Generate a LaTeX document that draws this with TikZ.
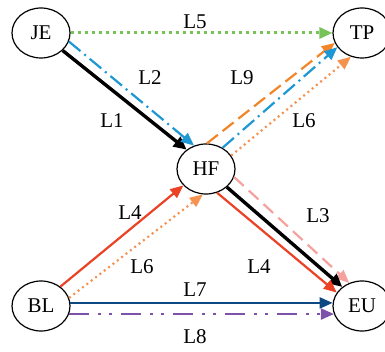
\documentclass[tikz,border=0pt]{standalone}
\usepackage{fontspec}
\setmainfont{Liberation Serif}
\usetikzlibrary{shapes.geometric, arrows.meta}
\definecolor{lgreen}{RGB}{119,195,87}
\definecolor{lblue}{RGB}{30,152,212}
\definecolor{dorange}{RGB}{242,133,40}
\definecolor{lorange}{RGB}{246,146,80}
\definecolor{lred}{RGB}{235,66,38}
\definecolor{lpink}{RGB}{245,162,158}
\definecolor{navy}{RGB}{14,72,130}
\definecolor{lpurple}{RGB}{126,82,170}
\tikzstyle{station} = [ellipse, minimum width=58pt, minimum height=50pt, inner sep=0pt, text centered, draw=black, line width=1.2pt]
\tikzstyle{arrow} = [line width=2.2pt, -{Triangle[length=13pt,width=11pt]}]
\tikzstyle{heavy} = [line width=3.4pt, -{Triangle[length=13pt,width=12pt]}]
\tikzstyle{every node}=[font=\fontsize{21}{25}\selectfont]

\begin{document}
\begin{tikzpicture}[x=1pt, y=-1pt]
			\useasboundingbox (0,0) rectangle (385,352);
			%节点
			\node (je) [station] at (41,33) {JE};
			\node (tp) [station] at (362,33) {TP};
			\node (hf) [station] at (206,169) {HF};
			\node (bl) [station] at (41,306) {BL};
			\node (eu) [station] at (362,306) {EU};
			
			%连线
			\draw [arrow, lgreen, line width=3pt, dash pattern=on 3pt off 4pt](je.east) -- (tp.west);
			\draw [heavy](je.-39) -- (hf.135);
			\draw [arrow, lblue, dash pattern=on 15pt off 5pt on 2pt off 5pt](je.-17) -- (hf.117);
			\draw [arrow, dorange, dash pattern=on 14pt off 6pt](hf.88) -- (tp.-160);
			\draw [arrow, lblue, dash pattern=on 15pt off 5pt on 2pt off 5pt](hf.52) -- (tp.-150);
			\draw [arrow, lorange, dash pattern=on 2pt off 3.5pt](hf.28) -- (tp.-115);
			\draw [arrow, lred](bl.45) -- (hf.-144);
			\draw [arrow, lorange, dash pattern=on 2pt off 3.5pt](bl.16) -- (hf.-97);
			\draw [arrow, lpink, dash pattern=on 13pt off 7pt](hf.-16) -- (eu.119);
			\draw [heavy](hf.-41) -- (eu.136);
			\draw [arrow, lred](hf.-65) -- (eu.152);
			\draw [arrow, navy](bl.6) -- (eu.174);
			\draw [arrow, lpurple, dash pattern=on 20pt off 9pt on 3pt off 8pt on 3pt off 9pt](bl.-16) -- (eu.-164);
			
			%标注
			\node (t5) at (195,22) {L5};
			\node (t2) at (150,78) {L2};
			\node (t1) at (112,121) {L1};
			\node (t9) at (242,78) {L9};
			\node (t6a) at (304,121) {L6};
			\node (t4a) at (130,213) {L4};
			\node (t6b) at (142,267) {L6};
			\node (t3) at (318,216) {L3};
			\node (t4b) at (259,267) {L4};
			\node (t7) at (195,290) {L7};
			\node (t8) at (195,337) {L8};
		\end{tikzpicture}
\end{document}
